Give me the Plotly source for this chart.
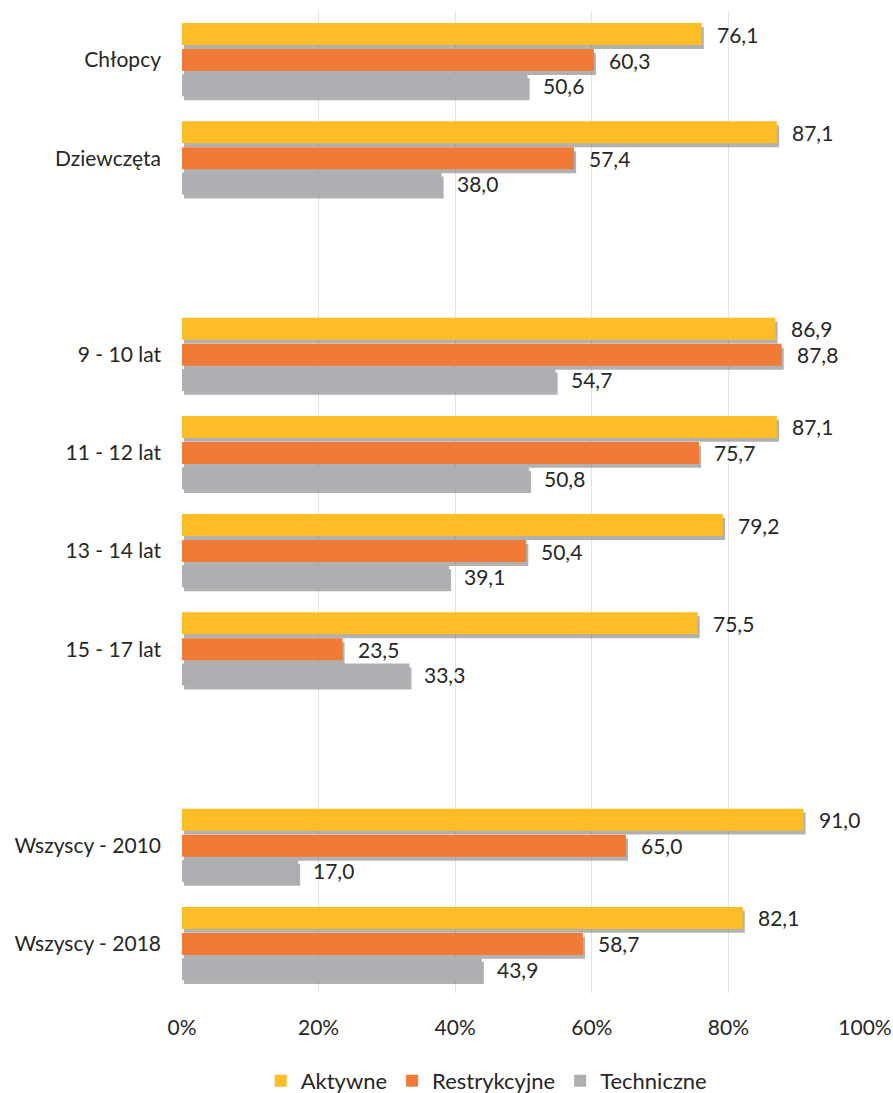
import plotly.graph_objects as go

# Row labels (blank entries leave a gap between the groups of rows)
categories = ["Chłopcy", "Dziewczęta", " ", "9 - 10 lat", "11 - 12 lat",
              "13 - 14 lat", "15 - 17 lat", "  ", "Wszyscy - 2010", "Wszyscy - 2018"]
rows = ["Chłopcy", "Dziewczęta", "9 - 10 lat", "11 - 12 lat",
        "13 - 14 lat", "15 - 17 lat", "Wszyscy - 2010", "Wszyscy - 2018"]

aktywne = [76.1, 87.1, 86.9, 87.1, 79.2, 75.5, 91.0, 82.1]
restrykcyjne = [60.3, 57.4, 87.8, 75.7, 50.4, 23.5, 65.0, 58.7]
techniczne = [50.6, 38.0, 54.7, 50.8, 39.1, 33.3, 17.0, 43.9]

x_ticks = [0, 20, 40, 60, 80, 100]
x_ticklabels = ["0%", "20%", "40%", "60%", "80%", "100%"]

series = [
    ("Aktywne", aktywne, "#FDBD26", -0.377),
    ("Restrykcyjne", restrykcyjne, "#F17B36", -0.112),
    ("Techniczne", techniczne, "#AEAFB3", 0.145),
]
BAR_W = 0.224
FONT = "Lato"
FSIZE = 21
TXT = "#262626"

fig = go.Figure()

# soft drop shadows under each bar
for name, vals, color, off in series:
    fig.add_trace(go.Bar(
        y=rows, x=vals, base=0.3, orientation="h",
        width=BAR_W, offset=off + 0.04,
        marker=dict(color="rgba(100,100,100,0.5)", line=dict(width=0)),
        showlegend=False, hoverinfo="skip",
    ))

for name, vals, color, off in series:
    fig.add_trace(go.Bar(
        y=rows, x=vals, orientation="h", name=name,
        width=BAR_W, offset=off,
        marker=dict(color=color, line=dict(width=0)),
    ))

# value labels to the right of each bar
annotations = []
for name, vals, color, off in series:
    for r, v in zip(rows, vals):
        idx = categories.index(r)
        annotations.append(dict(
            x=v, y=idx + off + BAR_W / 2, xref="x", yref="y",
            text=f"{v:.1f}".replace(".", ","), showarrow=False,
            xanchor="left", yanchor="middle", xshift=13,
            font=dict(family=FONT, size=FSIZE, color=TXT),
        ))

fig.update_layout(
    width=893, height=1093,
    margin=dict(l=182, r=28, t=11, b=100, autoexpand=False),
    barmode="overlay",
    plot_bgcolor="white", paper_bgcolor="white",
    font=dict(family=FONT, size=FSIZE, color=TXT),
    annotations=annotations,
    legend=dict(
        orientation="h", x=0.545, xanchor="center", xref="container",
        y=0.011, yanchor="middle", yref="container",
        font=dict(family=FONT, size=22, color=TXT),
        itemwidth=30, traceorder="normal",
    ),
    showlegend=True,
)
fig.update_xaxes(
    range=[0, 100], tickvals=x_ticks, ticktext=x_ticklabels,
    showgrid=True, gridcolor="#E3E3E3", gridwidth=1,
    zeroline=False, showline=False, ticks="", ticklabelstandoff=20,
    fixedrange=True,
)
fig.update_yaxes(
    type="category", categoryorder="array", categoryarray=categories,
    range=[len(categories) - 0.5, -0.5],
    showgrid=False, zeroline=False, showline=False, ticks="",
    ticklabelstandoff=20, fixedrange=True,
)

fig.write_html("out.html")
